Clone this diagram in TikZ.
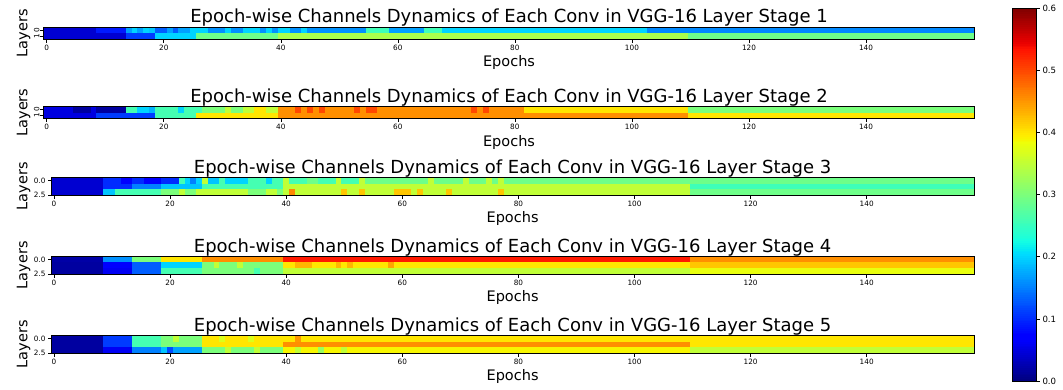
\documentclass[tikz,border=0pt]{standalone}
\usepackage{fontspec}
\setmainfont{DejaVu Sans}
\newcommand\jetset[1]{%
 \pgfmathsetmacro\jt{min(max((#1)/0.6,0),1)}%
 \pgfmathsetmacro\jr{max(0,min((\jt-0.35)/0.31,1,1-(\jt-0.89)/0.22))}%
 \pgfmathsetmacro\jg{max(0,min((\jt-0.125)/0.25,1,(0.91-\jt)/0.27))}%
 \pgfmathsetmacro\jb{max(0,min(0.5+\jt/0.22,1,(0.65-\jt)/0.31))}%
 \definecolor{jc}{rgb}{\jr,\jg,\jb}}
\newcommand\hrow[2]{%
 \foreach \a/\b/\v in {#2}{%
   \jetset{\v}%
   \fill[jc] ({\PL+\a*\PW},{\PT+#1*\PW}) rectangle ({\PL+\b*\PW+\PW+0.3},{\PT+#1*\PW+\PW+0.3});}}
\newcommand\axesdeco[2]{%
 \pgfmathsetmacro\PR{\PL+159*\PW}%
 \pgfmathsetmacro\PB{\PT+\PN*\PW}%
 \pgfmathsetmacro\PC{(\PL+\PR)/2}%
 \pgfmathsetmacro\PM{(\PT+\PB)/2}%
 \draw[frame] (\PL,\PT) rectangle (\PR,\PB);
 \foreach \e in {0,20,...,140}{%
   \draw[tickln] ({\PL+\e*\PW+0.5*\PW},\PB) -- ++(0,3.5);
   \node[xtl] (#1x\e) at ({\PL+\e*\PW+0.5*\PW},{\PB+11.3}) {\e};}
 \node[ttl] (#1t) at (\PC,{\PT-4.5}) {Epoch-wise Channels Dynamics of Each Conv in VGG-16 Layer Stage #2};
 \node[xlab] (#1e) at (\PC,{\PB+27.7}) {Epochs};
 \node[ylab] (#1l) at (27.3,\PM) {Layers};}
\begin{document}
\begin{tikzpicture}[x=1pt,y=-1pt,
  frame/.style={draw=black,line width=0.8},
  tickln/.style={draw=black,line width=0.6},
  xtl/.style={anchor=base,inner sep=0,font=\fontsize{7.3}{8}\selectfont},
  ytlr/.style={anchor=base,inner sep=0,rotate=90,font=\fontsize{7.3}{8}\selectfont},
  ytl/.style={anchor=east,inner sep=0,font=\fontsize{7.3}{8}\selectfont},
  ctl/.style={anchor=west,inner sep=0,font=\fontsize{8.6}{9}\selectfont},
  ttl/.style={anchor=base,inner sep=0,font=\fontsize{18}{19}\selectfont},
  xlab/.style={anchor=base,inner sep=0,font=\fontsize{14.5}{15}\selectfont},
  ylab/.style={anchor=base,inner sep=0,rotate=90,font=\fontsize{14.5}{15}\selectfont}]
\useasboundingbox (0,0) rectangle (1063,389);
% ---------- Panel 1
\def\PL{43.8}\def\PW{5.852}\def\PT{27.3}\def\PN{2}
\hrow{0}{0/8/.042, 9/13/.09, 14/14/.17, 15/15/.2, 16/16/.17, 17/17/.2, 18/18/.19, 19/20/.13, 21/21/.17, 22/22/.13, 23/24/.17, 25/27/.2, 28/30/.16, 31/31/.2, 32/33/.16, 34/36/.2, 37/37/.16, 38/38/.2, 39/39/.16, 40/41/.2, 42/43/.16, 44/44/.2, 45/54/.16, 55/58/.255, 59/64/.17, 65/67/.255, 68/102/.2, 103/158/.155}
\hrow{1}{0/13/.042, 14/18/.11, 19/25/.2, 26/39/.29, 40/109/.335, 110/158/.29}
\axesdeco{p1}{1}
\foreach \r in {0,1}{\draw[tickln] (\PL,{\PT+\r*\PW+0.5*\PW}) -- ++(-3.5,0);
  \node[ytlr] (p1y\r) at ({\PL-4.5},{\PT+\r*\PW+0.5*\PW}) {\r};}
% ---------- Panel 2
\def\PT{106.7}
\hrow{0}{0/4/.05, 5/7/.017, 8/8/.05, 9/13/.017, 14/15/.26, 16/17/.2, 18/18/.18, 19/22/.26, 23/23/.2, 24/26/.26, 27/30/.3, 31/31/.35, 32/33/.3, 34/35/.35, 36/37/.4, 38/39/.35, 40/42/.455, 43/43/.5, 44/44/.455, 45/45/.5, 46/46/.455, 47/47/.5, 48/52/.455, 53/53/.5, 54/54/.455, 55/56/.5, 57/72/.455, 73/73/.5, 74/74/.455, 75/75/.5, 76/81/.455, 82/109/.4, 110/158/.3}
\hrow{1}{0/8/.05, 9/18/.11, 19/25/.26, 26/39/.4, 40/109/.455, 110/158/.4}
\axesdeco{p2}{2}
\foreach \r in {0,1}{\draw[tickln] (\PL,{\PT+\r*\PW+0.5*\PW}) -- ++(-3.5,0);
  \node[ytlr] (p2y\r) at ({\PL-4.5},{\PT+\r*\PW+0.5*\PW}) {\r};}
% ---------- Panel 3
\def\PL{51.1}\def\PW{5.805}\def\PT{177.7}\def\PN{3}
\hrow{0}{0/8/.042, 9/11/.1, 12/13/.075, 14/15/.1, 16/18/.075, 19/21/.1, 22/22/.26, 23/23/.2, 24/24/.15, 25/25/.2, 26/26/.35, 27/28/.19, 29/29/.26, 30/33/.2, 34/36/.26, 37/37/.2, 38/39/.26, 40/40/.35, 41/43/.26, 44/45/.29, 46/48/.26, 49/49/.35, 50/52/.26, 53/53/.35, 54/64/.29, 65/65/.35, 66/70/.29, 71/71/.35, 72/74/.29, 75/75/.35, 76/76/.29, 77/77/.35, 78/158/.29}
\hrow{1}{0/8/.042, 9/13/.1, 14/18/.15, 19/25/.19, 26/39/.26, 40/109/.35, 110/158/.255}
\hrow{2}{0/8/.042, 9/10/.19, 11/18/.26, 19/21/.3, 22/22/.35, 23/24/.3, 25/33/.35, 34/36/.3, 37/38/.35, 39/39/.3, 40/40/.35, 41/41/.46, 42/49/.35, 50/50/.42, 51/52/.35, 53/53/.42, 54/58/.35, 59/61/.42, 62/62/.35, 63/63/.42, 64/67/.35, 68/68/.42, 69/76/.35, 77/77/.42, 78/109/.35, 110/158/.29}
\axesdeco{p3}{3}
\newcommand\ythree[1]{%
 \draw[tickln] (\PL,{\PT+0.5*\PW}) -- ++(-3.5,0);
 \draw[tickln] (\PL,{\PT+3*\PW}) -- ++(-3.5,0);
 \node[ytl] (#1y0) at ({\PL-5.5},{\PT+0.5*\PW}) {0.0};
 \node[ytl] (#1y1) at ({\PL-5.5},{\PT+3*\PW}) {2.5};}
\ythree{p3}
% ---------- Panel 4
\def\PT{256.6}
\hrow{0}{0/8/.02, 9/13/.16, 14/18/.3, 19/25/.4, 26/39/.455, 40/109/.53, 110/158/.455}
\hrow{1}{0/8/.017, 9/13/.075, 14/18/.13, 19/25/.2, 26/27/.3, 28/28/.35, 29/31/.3, 32/32/.35, 33/39/.3, 40/41/.4, 42/44/.43, 45/48/.4, 49/49/.43, 50/50/.4, 51/51/.43, 52/57/.4, 58/58/.44, 59/109/.4, 110/158/.42}
\hrow{2}{0/8/.017, 9/13/.06, 14/18/.13, 19/25/.26, 26/34/.3, 35/35/.26, 36/39/.3, 40/109/.35, 110/158/.38}
\axesdeco{p4}{4}
\ythree{p4}
% ---------- Panel 5
\def\PT{335.7}
\hrow{0}{0/8/.017, 9/13/.11, 14/18/.26, 19/20/.3, 21/21/.35, 22/25/.3, 26/28/.4, 29/29/.37, 30/33/.4, 34/34/.37, 35/41/.4, 42/42/.45, 43/158/.4}
\hrow{1}{0/8/.017, 9/13/.11, 14/18/.26, 19/25/.3, 26/39/.4, 40/109/.455, 110/158/.4}
\hrow{2}{0/8/.017, 9/13/.06, 14/18/.15, 19/19/.19, 20/20/.12, 21/25/.17, 26/29/.3, 30/30/.35, 31/34/.3, 35/35/.35, 36/39/.3, 40/41/.39, 42/42/.35, 43/45/.39, 46/46/.32, 47/49/.39, 50/50/.35, 51/109/.39, 110/158/.35}
\axesdeco{p5}{5}
\ythree{p5}
% ---------- Colorbar
\foreach \i in {0,...,199}{%
  \jetset{(\i+0.5)*0.003}%
  \fill[jc] (1012.3,{381-\i*1.8635}) rectangle (1036.7,{381-(\i+1)*1.8635-0.3});}
\draw[frame] (1012.3,8.3) rectangle (1036.7,381);
\foreach \v/\n in {0/0.0,1/0.1,2/0.2,3/0.3,4/0.4,5/0.5,6/0.6}{%
  \draw[tickln] (1036.7,{381-\v*62.12}) -- ++(3.5,0);
  \node[ctl] (cb\v) at (1042.3,{381-\v*62.12}) {\n};}
\end{tikzpicture}
\end{document}
